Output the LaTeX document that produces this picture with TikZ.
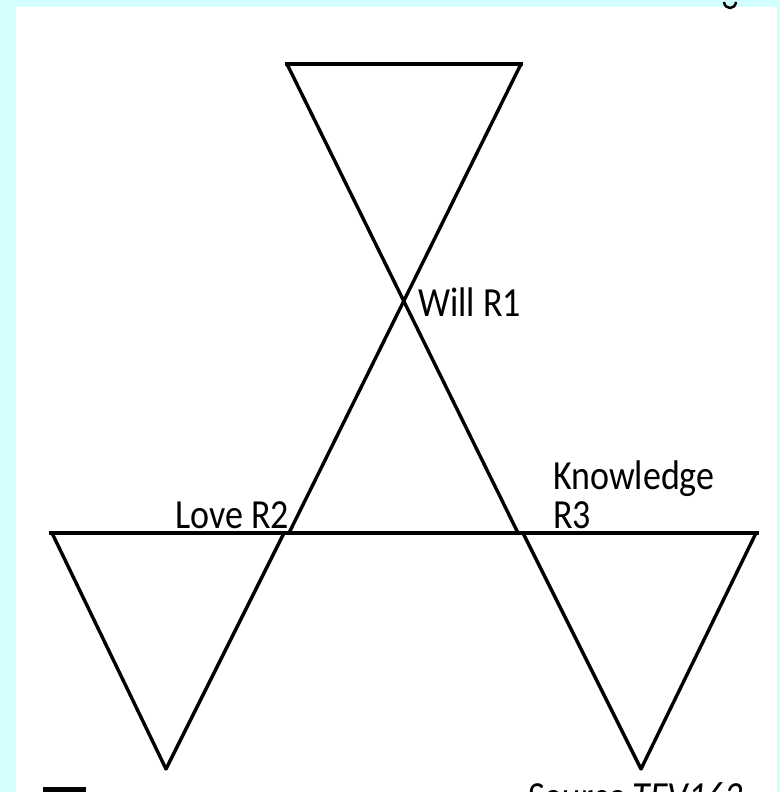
\documentclass[tikz,border=0pt]{standalone}
\usepackage{fontspec}
\setmainfont{Carlito}
\definecolor{framecyan}{RGB}{212,255,255}
\tikzset{
  edge/.style={draw=black,line width=3.4pt,line cap=round,line join=round},
  bar/.style={draw=black,line width=4pt,line cap=butt},
  lbl/.style={inner sep=0pt,anchor=base west,font=\fontsize{36}{40}\selectfont}
}
\newcommand{\tallt}[1]{\scalebox{1}[1.15]{#1}}
\begin{document}
\begin{tikzpicture}[x=1pt,y=-1pt]
\useasboundingbox (0,0) rectangle (780,792);
\clip (0,0) rectangle (780,792);
\fill[framecyan] (0,0) rectangle (780,792);
\fill[white] (16,7) rectangle (777,800);
% vertices
\coordinate (TL) at (287,64);
\coordinate (TR) at (521,64);
\coordinate (K) at (518,533);
\coordinate (L) at (289,533);
\coordinate (BL) at (49,533);
\coordinate (BR) at (759,533);
\coordinate (L2) at (284,533);
\coordinate (K2) at (523,533);
\coordinate (AL) at (166,769);
\coordinate (AR) at (641,769);
\coordinate (BLs) at (52,533);
\coordinate (BRs) at (756,533);
% bars
\draw[bar] (285,64) -- (523,64);
\draw[bar] (BL) -- (BR);
% crossing lines
\draw[edge] (TL) -- (K);
\draw[edge] (TR) -- (L);
% lower triangles
\draw[edge] (BLs) -- (AL) -- (L2);
\draw[edge] (K2) -- (AR) -- (BRs);
% labels
\node[lbl] (will) at (418,316) {\tallt{Will R1}};
\node[lbl] (love) at (175,528) {\tallt{Love R2}};
\node[lbl] (know) at (553,489) {\tallt{Knowledge}};
\node[lbl] (r3) at (553,528) {\tallt{R3}};
\node[lbl] (src) at (527,810) {\tallt{\itshape Source TEV163}};
% cropped fragments
\draw[black,line width=2.5pt] (724,2) .. controls (725,10) and (735,10) .. (736,2);
\fill[black] (43,787) rectangle (86,795);
\end{tikzpicture}
\end{document}
